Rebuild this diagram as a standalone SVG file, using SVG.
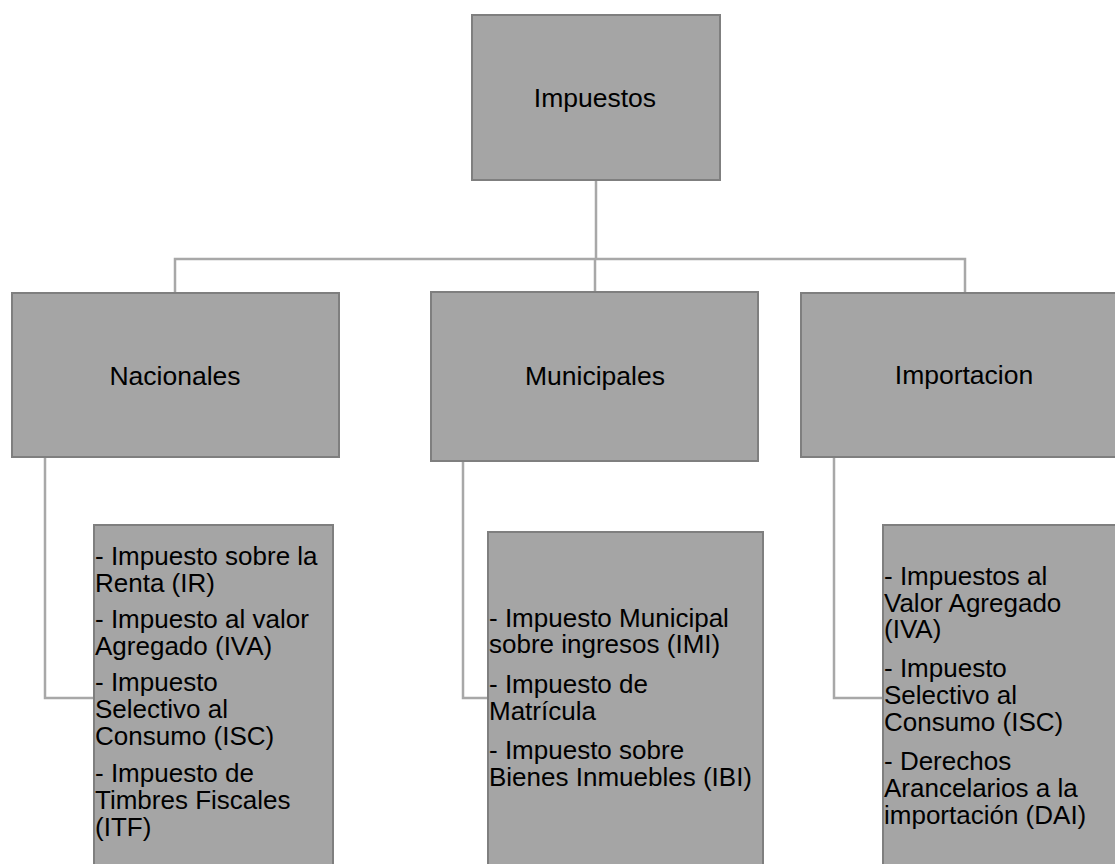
<svg xmlns="http://www.w3.org/2000/svg" width="1115" height="864" viewBox="0 0 1115 864">
<style>
.box{fill:#a5a5a5;stroke:#7f7f7f;stroke-width:2}
.conn{fill:none;stroke:#a8a8a8;stroke-width:2.5}
.t{font-family:"Liberation Sans",Arial,sans-serif;font-size:26.5px;fill:#000}
.l{font-size:26px}
.c{text-anchor:middle}
</style>
<rect width="1115" height="864" fill="#fff"/>
<g id="connectors">
<path class="conn" d="M596 180 V259 M175 293 V259 H965 V293 M595 259 V291"/>
<path class="conn" d="M45 457 V698 H94"/>
<path class="conn" d="M463 461 V698 H489"/>
<path class="conn" d="M834 457 V698 H883"/>
</g>
<g id="impuestos">
<rect class="box" x="472" y="15" width="248" height="165"/>
<text class="t c" x="595" y="107">Impuestos</text>
</g>
<g id="nacionales">
<rect class="box" x="12" y="293" width="327" height="164"/>
<text class="t c" x="175" y="385">Nacionales</text>
</g>
<g id="municipales">
<rect class="box" x="431" y="292" width="327" height="169"/>
<text class="t c" x="595" y="385">Municipales</text>
</g>
<g id="importacion">
<rect class="box" x="801" y="293" width="330" height="164"/>
<text class="t c" x="964" y="384">Importacion</text>
</g>
<g id="nacionales-list">
<rect class="box" x="94" y="525" width="239" height="350"/>
<text class="t l">
<tspan x="95" y="565">- Impuesto sobre la</tspan>
<tspan x="95" y="592">Renta (IR)</tspan>
<tspan x="95" y="628">- Impuesto al valor</tspan>
<tspan x="95" y="655">Agregado (IVA)</tspan>
<tspan x="95" y="691">- Impuesto</tspan>
<tspan x="95" y="718">Selectivo al</tspan>
<tspan x="95" y="745">Consumo (ISC)</tspan>
<tspan x="95" y="782">- Impuesto de</tspan>
<tspan x="95" y="809">Timbres Fiscales</tspan>
<tspan x="95" y="836">(ITF)</tspan>
</text>
</g>
<g id="municipales-list">
<rect class="box" x="488" y="532" width="275" height="345"/>
<text class="t l">
<tspan x="489" y="627">- Impuesto Municipal</tspan>
<tspan x="489" y="653">sobre ingresos (IMI)</tspan>
<tspan x="489" y="693">- Impuesto de</tspan>
<tspan x="489" y="720">Matrícula</tspan>
<tspan x="489" y="759">- Impuesto sobre</tspan>
<tspan x="489" y="786">Bienes Inmuebles (IBI)</tspan>
</text>
</g>
<g id="importacion-list">
<rect class="box" x="883" y="525" width="250" height="350"/>
<text class="t l">
<tspan x="884" y="585">- Impuestos al</tspan>
<tspan x="884" y="612">Valor Agregado</tspan>
<tspan x="884" y="638">(IVA)</tspan>
<tspan x="884" y="677">- Impuesto</tspan>
<tspan x="884" y="704">Selectivo al</tspan>
<tspan x="884" y="731">Consumo (ISC)</tspan>
<tspan x="884" y="770">- Derechos</tspan>
<tspan x="884" y="797">Arancelarios a la</tspan>
<tspan x="884" y="824">importación (DAI)</tspan>
</text>
</g>
</svg>
